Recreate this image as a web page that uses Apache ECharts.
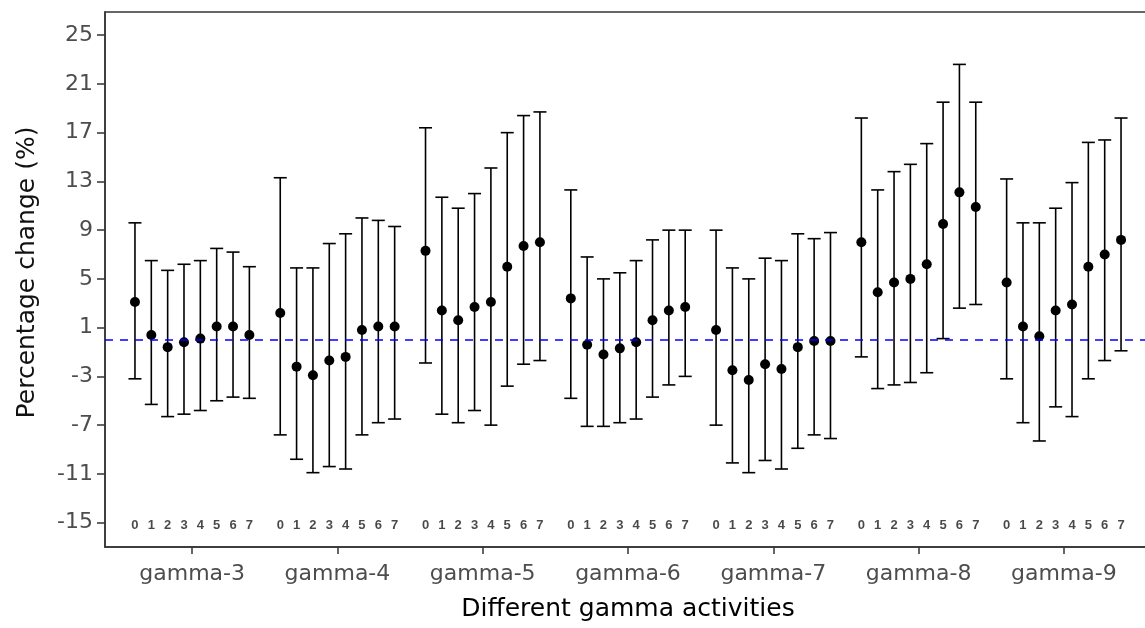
<!DOCTYPE html>
<html>
<head>
<meta charset="utf-8">
<script src="https://cdn.jsdelivr.net/npm/echarts@6/dist/echarts.min.js"></script>
<style>
  html, body { margin: 0; padding: 0; background: #fff; }
  #lagChart { width: 1145px; height: 628px; }
</style>
</head>
<body>
<div id="lagChart"></div>
<script>
// 各组名称及滞后天数
var groups = ['gamma-3', 'gamma-4', 'gamma-5', 'gamma-6', 'gamma-7', 'gamma-8', 'gamma-9']
var lags = [0, 1, 2, 3, 4, 5, 6, 7]
var yTicks = [-15, -11, -7, -3, 1, 5, 9, 13, 17, 21, 25]

// 估计值（%）
var estG3 = [3.1, 0.4, -0.6, -0.2, 0.1, 1.1, 1.1, 0.4]
var estG4 = [2.2, -2.2, -2.9, -1.7, -1.4, 0.8, 1.1, 1.1]
var estG5 = [7.3, 2.4, 1.6, 2.7, 3.1, 6.0, 7.7, 8.0]
var estG6 = [3.4, -0.4, -1.2, -0.7, -0.2, 1.6, 2.4, 2.7]
var estG7 = [0.8, -2.5, -3.3, -2.0, -2.4, -0.6, -0.1, -0.1]
var estG8 = [8.0, 3.9, 4.7, 5.0, 6.2, 9.5, 12.1, 10.9]
var estG9 = [4.7, 1.1, 0.3, 2.4, 2.9, 6.0, 7.0, 8.2]

// 95%置信区间下限
var lowG3 = [-3.2, -5.3, -6.3, -6.1, -5.8, -5.0, -4.7, -4.8]
var lowG4 = [-7.8, -9.8, -10.9, -10.4, -10.6, -7.8, -6.8, -6.5]
var lowG5 = [-1.9, -6.1, -6.8, -5.8, -7.0, -3.8, -2.0, -1.7]
var lowG6 = [-4.8, -7.1, -7.1, -6.8, -6.5, -4.7, -3.7, -3.0]
var lowG7 = [-7.0, -10.1, -10.9, -9.9, -10.6, -8.9, -7.8, -8.1]
var lowG8 = [-1.4, -4.0, -3.7, -3.5, -2.7, 0.1, 2.6, 2.9]
var lowG9 = [-3.2, -6.8, -8.3, -5.5, -6.3, -3.2, -1.7, -0.9]

// 95%置信区间上限
var upG3 = [9.6, 6.5, 5.7, 6.2, 6.5, 7.5, 7.2, 6.0]
var upG4 = [13.3, 5.9, 5.9, 7.9, 8.7, 10.0, 9.8, 9.3]
var upG5 = [17.4, 11.7, 10.8, 12.0, 14.1, 17.0, 18.4, 18.7]
var upG6 = [12.3, 6.8, 5.0, 5.5, 6.5, 8.2, 9.0, 9.0]
var upG7 = [9.0, 5.9, 5.0, 6.7, 6.5, 8.7, 8.3, 8.8]
var upG8 = [18.2, 12.3, 13.8, 14.4, 16.1, 19.5, 22.6, 19.5]
var upG9 = [13.2, 9.6, 9.6, 10.8, 12.9, 16.2, 16.4, 18.2]

var estList = [estG3, estG4, estG5, estG6, estG7, estG8, estG9]
var lowList = [lowG3, lowG4, lowG5, lowG6, lowG7, lowG8, lowG9]
var upList = [upG3, upG4, upG5, upG6, upG7, upG8, upG9]

var dodge = 0.1125 // 组内间距
var lagLabelY = -15 // 底部滞后天数标注的位置

var pointData = []
var barData = []
var lagData = []
groups.forEach(function (g, gi) {
  lags.forEach(function (lag, li) {
    var x = gi + 1 + (li - 3.5) * dodge
    pointData.push([x, estList[gi][li]])
    barData.push([x, lowList[gi][li], upList[gi][li]])
    lagData.push([x, lagLabelY, lag])
  })
})

var chart = echarts.init(document.getElementById('lagChart'))
chart.setOption({
  animation: false,
  grid: {
    left: 105,
    width: 1046, // 右边框在画面之外
    top: 12,
    bottom: 81,
    outerBoundsMode: 'none',
    show: true,
    borderColor: '#333',
    borderWidth: 1.5
  },
  xAxis: {
    type: 'value',
    min: 0.4,
    max: 7.6,
    name: 'Different gamma activities',
    nameLocation: 'middle',
    nameGap: 50,
    nameTextStyle: {
      fontFamily: 'DejaVu Sans',
      fontSize: 25,
      color: '#000'
    },
    axisLine: { onZero: false, lineStyle: { color: '#333', width: 1.5 } },
    axisTick: {
      length: 7,
      lineStyle: { color: '#333', width: 1.5 },
      customValues: [1, 2, 3, 4, 5, 6, 7]
    },
    axisLabel: {
      margin: 16,
      fontFamily: 'DejaVu Sans',
      fontSize: 22,
      color: '#4d4d4d',
      customValues: [1, 2, 3, 4, 5, 6, 7],
      formatter: function (v) {
        return groups[Math.round(v) - 1]
      }
    },
    splitLine: { show: false }
  },
  yAxis: {
    type: 'value',
    min: -17.0,
    max: 26.9,
    name: 'Percentage change (%)',
    nameLocation: 'middle',
    nameGap: 65,
    nameTextStyle: {
      fontFamily: 'DejaVu Sans',
      fontSize: 25,
      color: '#111',
      padding: [0, 0, 0, 14]
    },
    axisLine: { show: true, onZero: false, lineStyle: { color: '#333', width: 1.5 } },
    axisTick: {
      show: true,
      length: 8,
      lineStyle: { color: '#333', width: 1.5 },
      customValues: yTicks
    },
    axisLabel: {
      margin: 12,
      fontFamily: 'DejaVu Sans',
      fontSize: 22,
      color: '#4d4d4d',
      customValues: yTicks
    },
    splitLine: { show: false }
  },
  series: [
    {
      // 0参考线
      type: 'custom',
      data: [],
      silent: true,
      renderItem: function () { return null },
      markLine: {
        silent: true,
        symbol: 'none',
        label: { show: false },
        lineStyle: { color: '#0000ff', opacity: 1, type: [8, 7], width: 1.6 },
        data: [{ yAxis: 0 }]
      }
    },
    {
      // 误差线
      type: 'custom',
      data: barData,
      silent: true,
      renderItem: function (params, api) {
        var x = api.value(0)
        var bottom = api.coord([x, api.value(1)])
        var top = api.coord([x, api.value(2)])
        var cap = 6.5
        var style = { stroke: '#000', lineWidth: 1.6 }
        return {
          type: 'group',
          children: [
            { type: 'line', shape: { x1: top[0], y1: top[1], x2: bottom[0], y2: bottom[1] }, style: style },
            { type: 'line', shape: { x1: top[0] - cap, y1: top[1], x2: top[0] + cap, y2: top[1] }, style: style },
            { type: 'line', shape: { x1: bottom[0] - cap, y1: bottom[1], x2: bottom[0] + cap, y2: bottom[1] }, style: style }
          ]
        }
      }
    },
    {
      // 估计值点
      type: 'scatter',
      data: pointData,
      symbolSize: 10,
      itemStyle: { color: '#000', opacity: 1 },
      z: 3
    },
    {
      // 底部滞后天数
      type: 'scatter',
      data: lagData,
      symbolSize: 0,
      silent: true,
      label: {
        show: true,
        position: 'inside',
        offset: [0, 3],
        fontFamily: 'Liberation Sans',
        fontSize: 13,
        fontWeight: 'bold',
        color: '#1a1a1a',
        formatter: function (p) {
          return String(p.value[2])
        }
      }
    }
  ]
})
</script>
</body>
</html>
